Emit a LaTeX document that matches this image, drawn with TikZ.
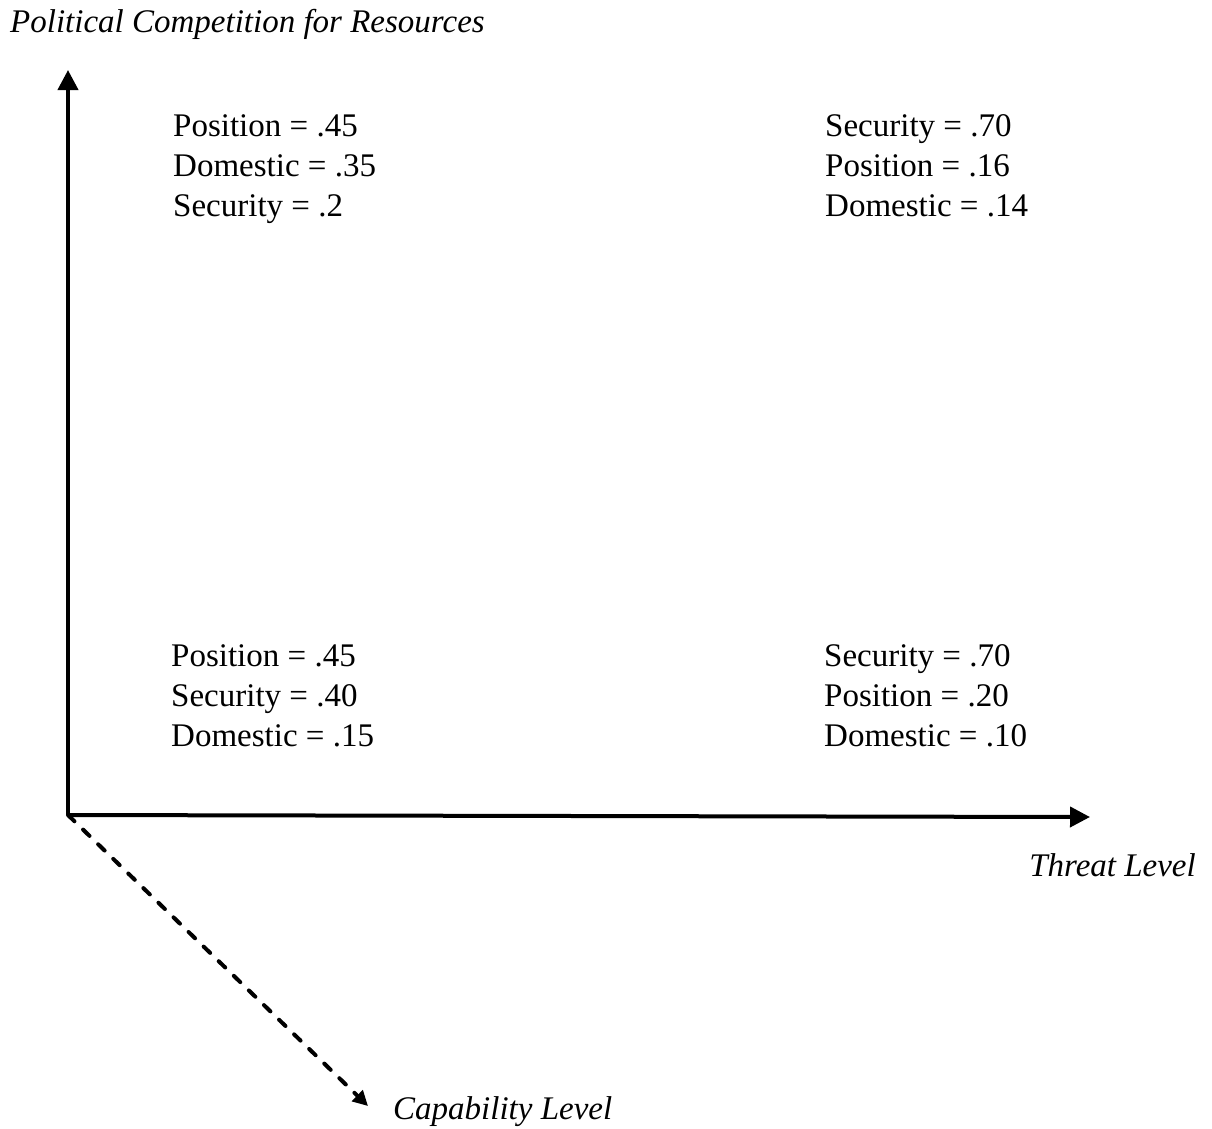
\documentclass[tikz,border=0pt]{standalone}
\usepackage{fontspec}
\setmainfont{Liberation Serif}
\usetikzlibrary{arrows.meta}
\begin{document}
\begin{tikzpicture}[x=1pt,y=-1pt,
  axis/.style={line width=4pt,-{Triangle[length=20pt,width=20pt]}},
  dashaxis/.style={line width=4pt,line cap=round,dash pattern=on 9pt off 12pt,-{Triangle[length=15pt,width=15pt]}},
  txt/.style={anchor=base west,inner sep=0pt,font=\fontsize{33}{40}\selectfont},
  lab/.style={inner sep=0pt,font=\fontsize{33}{40}\selectfont\itshape}]
\useasboundingbox (0,0) rectangle (1212,1128);
\coordinate (O) at (68,815);
\coordinate (Ytop) at (68,70);
\coordinate (Xend) at (1090,817);
\coordinate (Zend) at (368,1106);
\draw[axis] (O) -- (Ytop);
\draw[axis] (O) -- (Xend);
\draw[dashaxis] (O) -- (Zend);
\node[lab,anchor=base west] (title) at (10,32) {Political Competition for Resources};
\node[lab,anchor=base east] (threat) at (1196,876) {Threat Level};
\node[lab,anchor=base west] (cap) at (393,1119) {Capability Level};
\node[txt] (tl1) at (173,136) {Position = .45};
\node[txt] (tl2) at (173,176) {Domestic = .35};
\node[txt] (tl3) at (173,216) {Security = .2};
\node[txt] (tr1) at (825,136) {Security = .70};
\node[txt] (tr2) at (825,176) {Position = .16};
\node[txt] (tr3) at (825,216) {Domestic = .14};
\node[txt] (bl1) at (171,666) {Position = .45};
\node[txt] (bl2) at (171,706) {Security = .40};
\node[txt] (bl3) at (171,746) {Domestic = .15};
\node[txt] (br1) at (824,666) {Security = .70};
\node[txt] (br2) at (824,706) {Position = .20};
\node[txt] (br3) at (824,746) {Domestic = .10};
\end{tikzpicture}
\end{document}
